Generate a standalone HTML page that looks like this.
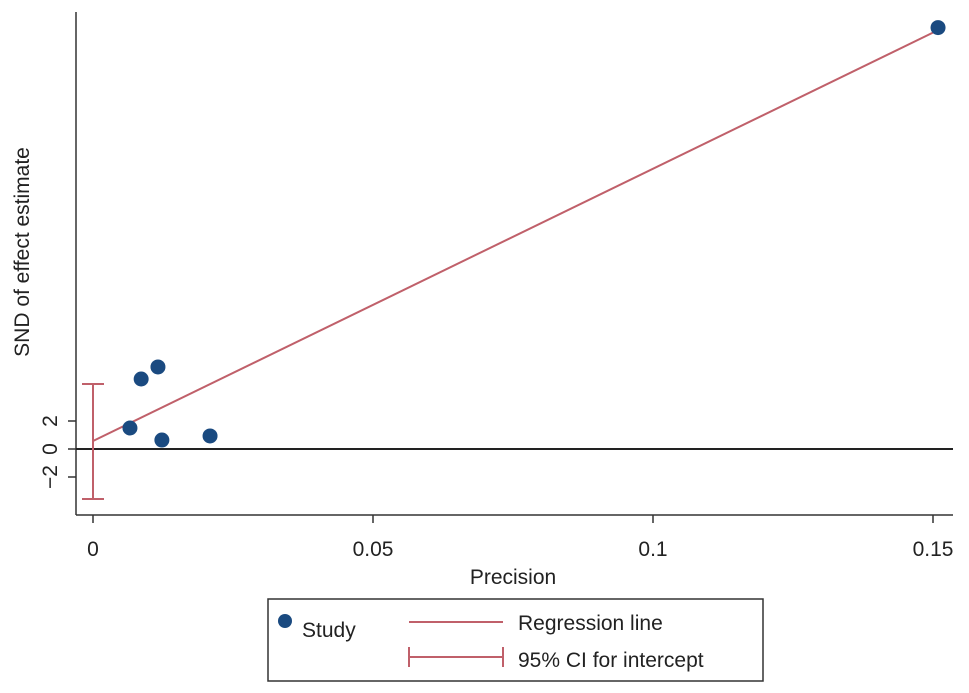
<!DOCTYPE html>
<html><head><meta charset="utf-8"><style>body{margin:0;background:#fff}svg{display:block;font-family:"Liberation Sans",Arial,sans-serif}</style></head>
<body>
<svg id="chart" width="969" height="693" viewBox="0 0 969 693">
<g id="plot"></g>
<g>
<rect x="268" y="599" width="495" height="82" fill="#fff" stroke="#333" stroke-width="1.5"/>
<circle cx="285" cy="621" r="7" fill="#1a4a80"/>
<text x="302" y="637" font-size="21" fill="#222">Study</text>
<line x1="409" y1="622" x2="503" y2="622" stroke="#c0606a" stroke-width="2"/>
<text x="518" y="630" font-size="21" fill="#222">Regression line</text>
<line x1="409" y1="657" x2="503" y2="657" stroke="#c0606a" stroke-width="2"/>
<line x1="409" y1="647" x2="409" y2="667" stroke="#c0606a" stroke-width="2"/>
<line x1="503" y1="647" x2="503" y2="667" stroke="#c0606a" stroke-width="2"/>
<text x="518" y="667" font-size="21" fill="#222">95% CI for intercept</text>
</g>
</svg>
<script>
const precision=[0.0066,0.0086,0.0116,0.0123,0.0209,0.1509];
const snd=[1.5,5.0,5.86,0.64,0.93,30.1];
const xTicks=[0,0.05,0.1,0.15];
const xTickLabels=["0","0.05","0.1","0.15"];
const yTicks=[-2,0,2];
const yTickLabels=["\u22122","0","2"];
const intercept=[0.57];
const slope=[194.5];
const ciBounds=[-3.57,4.64];
const xEnd=[0.1509];

const X=v=>93+v*5600;
const Y=v=>449-v*14;
const NS="http://www.w3.org/2000/svg";
const g=document.getElementById('plot');
function mk(tag,attrs){const e=document.createElementNS(NS,tag);for(const k in attrs)e.setAttribute(k,attrs[k]);g.appendChild(e);return e;}
const red="#c0606a",ax="#333";
let e;
e=mk('line',{x1:76,y1:12,x2:76,y2:515,stroke:ax,'stroke-width':1.5});


e=mk('line',{x1:76,y1:515,x2:953,y2:515,stroke:ax,'stroke-width':1.5});


xTicks.forEach((t,i)=>{
 e=mk('line',{x1:X(t),y1:515,x2:X(t),y2:523,stroke:ax,'stroke-width':1.5});
 
 
 e=mk('text',{x:X(t),y:556,'font-size':21,'text-anchor':'middle',fill:'#222'});e.textContent=xTickLabels[i];
 
 
});
yTicks.forEach((t,i)=>{
 e=mk('line',{x1:68,y1:Y(t),x2:76,y2:Y(t),stroke:ax,'stroke-width':1.5});
 
 
 e=mk('text',{x:0,y:0,'font-size':21,'text-anchor':'middle',fill:'#222',transform:`translate(${57},${Y(t)}) rotate(-90)`});e.textContent=yTickLabels[i];
 
 
});
e=mk('text',{x:0,y:0,'font-size':21,'text-anchor':'middle',fill:'#222',transform:'translate(29,252) rotate(-90)'});e.textContent='SND of effect estimate';


e=mk('text',{x:513,y:584,'font-size':21,'text-anchor':'middle',fill:'#222'});e.textContent='Precision';


e=mk('line',{x1:76,y1:Y(0),x2:953,y2:Y(0),stroke:'#222','stroke-width':2});


e=mk('line',{x1:X(0),y1:Y(ciBounds[0]),x2:X(0),y2:Y(ciBounds[1]),stroke:red,'stroke-width':2});


ciBounds.forEach(b=>{e=mk('line',{x1:X(0)-11,y1:Y(b),x2:X(0)+11,y2:Y(b),stroke:red,'stroke-width':2});
 
 });
e=mk('line',{x1:X(0),y1:Y(intercept[0]),x2:X(xEnd[0]),y2:Y(intercept[0]+slope[0]*xEnd[0]),stroke:red,'stroke-width':2});


precision.forEach((p,i)=>{e=mk('circle',{cx:X(p),cy:Y(snd[i]),r:7.5,fill:'#1a4a80'});
 
 });
</script>
</body></html>
